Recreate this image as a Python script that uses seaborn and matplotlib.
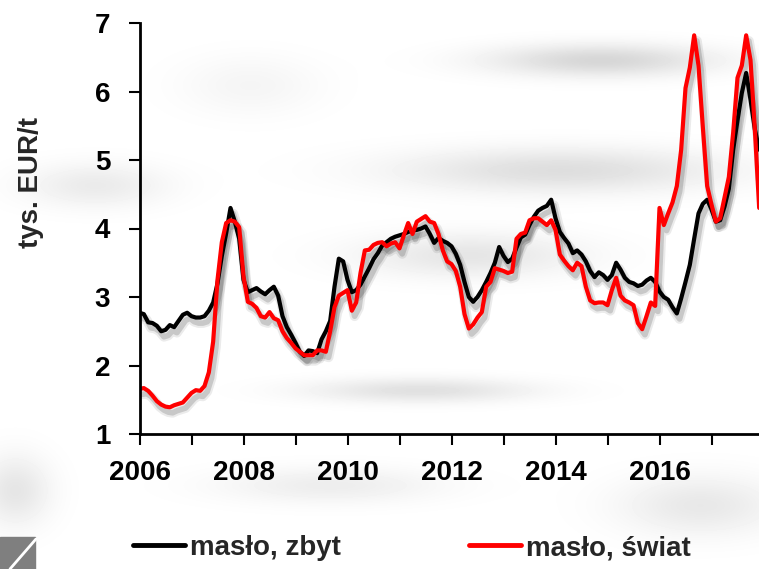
import numpy as np
import pandas as pd
import matplotlib
matplotlib.use("Agg")
import matplotlib.pyplot as plt
import matplotlib.patheffects as pe
from matplotlib.lines import Line2D
from matplotlib.patches import Rectangle
import seaborn as sns

# miesięczne ceny masła, tys. EUR/t, 2006-01 .. 2017-12
months = pd.date_range("2006-01-01", periods=144, freq="MS")

maslo_zbyt = [
    2.77, 2.75, 2.63, 2.62, 2.58, 2.50, 2.52, 2.59, 2.56, 2.65, 2.74, 2.77,  # 2006
    2.72, 2.70, 2.70, 2.72, 2.80, 2.92, 3.20, 3.60, 3.93, 4.30, 4.10, 3.85,  # 2007
    3.25, 3.07, 3.10, 3.13, 3.08, 3.04, 3.10, 3.15, 3.02, 2.72, 2.56, 2.45,  # 2008
    2.33, 2.20, 2.14, 2.22, 2.21, 2.18, 2.38, 2.50, 2.65, 3.15, 3.56, 3.52,  # 2009
    3.25, 3.07, 3.10, 3.18, 3.30, 3.42, 3.55, 3.64, 3.75, 3.80, 3.85, 3.88,  # 2010
    3.90, 3.92, 3.95, 3.97, 3.98, 4.00, 4.03, 3.92, 3.79, 3.86, 3.82, 3.79,  # 2011
    3.74, 3.63, 3.47, 3.22, 3.00, 2.93, 3.00, 3.10, 3.22, 3.35, 3.50, 3.73,  # 2012
    3.60, 3.51, 3.56, 3.72, 3.87, 3.91, 4.05, 4.17, 4.26, 4.30, 4.33, 4.42,  # 2013
    4.15, 3.95, 3.86, 3.78, 3.64, 3.68, 3.62, 3.52, 3.38, 3.29, 3.36, 3.32,  # 2014
    3.25, 3.32, 3.50, 3.40, 3.28, 3.22, 3.20, 3.16, 3.18, 3.24, 3.28, 3.22,  # 2015
    3.08, 3.00, 2.96, 2.85, 2.76, 2.98, 3.22, 3.47, 3.85, 4.22, 4.36, 4.42,  # 2016
    4.28, 4.10, 4.12, 4.32, 4.58, 5.15, 5.58, 5.98, 6.27, 5.88, 5.45, 5.15,  # 2017
]

maslo_swiat = [
    1.66, 1.67, 1.63, 1.56, 1.48, 1.43, 1.40, 1.39, 1.42, 1.44, 1.46, 1.53,  # 2006
    1.60, 1.64, 1.63, 1.70, 1.90, 2.35, 3.25, 3.80, 4.08, 4.12, 4.10, 4.02,  # 2007
    3.30, 2.93, 2.90, 2.84, 2.72, 2.70, 2.78, 2.69, 2.66, 2.50, 2.40, 2.33,  # 2008
    2.25, 2.20, 2.15, 2.15, 2.15, 2.22, 2.22, 2.20, 2.50, 2.85, 3.02, 3.06,  # 2009
    3.10, 2.80, 2.92, 3.35, 3.68, 3.69, 3.76, 3.79, 3.80, 3.74, 3.78, 3.80,  # 2010
    3.71, 3.90, 4.08, 3.92, 4.10, 4.14, 4.18, 4.10, 4.08, 3.92, 3.68, 3.52,  # 2011
    3.48, 3.38, 3.15, 2.75, 2.54, 2.60, 2.70, 2.78, 3.15, 3.22, 3.42, 3.40,  # 2012
    3.38, 3.35, 3.37, 3.85, 3.92, 3.94, 4.12, 4.15, 4.15, 4.10, 4.05, 4.12,  # 2013
    3.98, 3.62, 3.53, 3.45, 3.39, 3.50, 3.45, 3.15, 2.95, 2.91, 2.92, 2.92,  # 2014
    2.88, 3.10, 3.28, 3.02, 2.95, 2.92, 2.88, 2.62, 2.53, 2.72, 2.92, 2.87,  # 2015
    4.30, 4.05, 4.22, 4.38, 4.62, 5.15, 6.05, 6.35, 6.82, 6.38, 5.48, 4.62,  # 2016
    4.35, 4.10, 4.15, 4.45, 4.75, 5.40, 6.20, 6.38, 6.82, 6.46, 5.45, 4.30,  # 2017
]

series_names = ["masło, zbyt", "masło, świat"]
series_colors = ["#000000", "#ff0000"]
year_ticks = list(range(2006, 2018))
year_labels = [str(y) if y % 2 == 0 else "" for y in year_ticks]
y_ticks = [1, 2, 3, 4, 5, 6, 7]

# tabela w formacie długim dla seaborn
rok = months.year + (months.month - 1) / 12
df = pd.concat([
    pd.DataFrame({"rok": rok, "cena": maslo_zbyt, "seria": series_names[0]}),
    pd.DataFrame({"rok": rok, "cena": maslo_swiat, "seria": series_names[1]}),
])

sns.set_theme(style="ticks")
plt.rcParams["font.family"] = ["Liberation Sans", "DejaVu Sans"]
plt.rcParams["font.weight"] = "bold"
FS = 20

W, H = 759, 569
fig = plt.figure(figsize=(W / 100, H / 100), dpi=100)

# rozmyte szare tło (dekoracja slajdu)
bg = fig.add_axes([0, 0, 1, 1], zorder=-5)
yy, xx = np.mgrid[0:H, 0:W]
shade = np.zeros((H, W))
for cx, cy, sx, sy, k in [(600, 60, 110, 16, 0.16), (560, 170, 160, 22, 0.13),
                          (470, 255, 110, 22, 0.10), (95, 185, 70, 22, 0.08),
                          (420, 390, 110, 12, 0.12), (330, 485, 110, 18, 0.07),
                          (700, 505, 80, 30, 0.09), (15, 490, 35, 35, 0.10),
                          (250, 85, 70, 30, 0.04)]:
    shade += k * np.exp(-(((xx - cx) / sx) ** 2 + ((yy - cy) / sy) ** 2))
bg.imshow(1 - np.clip(shade, 0, 0.3), cmap="gray", vmin=0, vmax=1,
          extent=[0, W, H, 0], aspect="auto", interpolation="bilinear")
bg.set_axis_off()

ax = fig.add_axes([139.5 / W, 1 - 434 / H, 1 - 139.5 / W, (434 - 23) / H])

shadow = [
    pe.SimpleLineShadow(offset=(2, -4), shadow_color="black", alpha=0.08, linewidth=7),
    pe.SimpleLineShadow(offset=(2, -4), shadow_color="black", alpha=0.15, linewidth=4),
    pe.Normal(),
]
sns.lineplot(data=df, x="rok", y="cena", hue="seria", hue_order=series_names,
             palette=dict(zip(series_names, series_colors)), linewidth=3,
             legend=False, ax=ax, path_effects=shadow)

ax.set_xlim(2006, 2006 + (W - 139.5) / 52)
ax.set_ylim(1, 7)
ax.set_xticks(year_ticks)
ax.set_xticklabels(year_labels)
ax.set_yticks(y_ticks)
ax.set_xlabel("")
ax.set_ylabel("")
ax.tick_params(axis="both", direction="out", length=8, width=1.5, color="black",
               labelsize=FS, labelcolor="black")
ax.tick_params(axis="y", pad=13)
ax.tick_params(axis="x", pad=11)
for lab in ax.get_xticklabels() + ax.get_yticklabels():
    lab.set_fontweight("bold")
sns.despine(ax=ax)
for side in ["left", "bottom"]:
    ax.spines[side].set_linewidth(2)
    ax.spines[side].set_color("black")
ax.set_facecolor("none")

fig.text(31 / W, 1 - 182 / H, "tys. EUR/t", rotation=90, ha="center", va="center",
         fontsize=FS, fontweight="bold")

handles = [Line2D([], [], color=c, linewidth=3.5) for c in series_colors]
fig.legend(handles, series_names, loc="center left",
           bbox_to_anchor=(133 / W, 1 - 548 / H), ncol=2, frameon=False,
           borderpad=0, borderaxespad=0, handlelength=1.87, handletextpad=0.18,
           columnspacing=4.6, prop={"size": FS, "weight": "bold"})

# znak w lewym dolnym rogu
fig.patches.append(Rectangle((0, 0), 35 / W, 32 / H, transform=fig.transFigure,
                             color="#7f7f7f", zorder=0))
fig.lines.append(Line2D([10 / W, 36 / W], [0, 30 / H], transform=fig.transFigure,
                        color="white", linewidth=2))

fig.savefig("out.png", dpi=100)
